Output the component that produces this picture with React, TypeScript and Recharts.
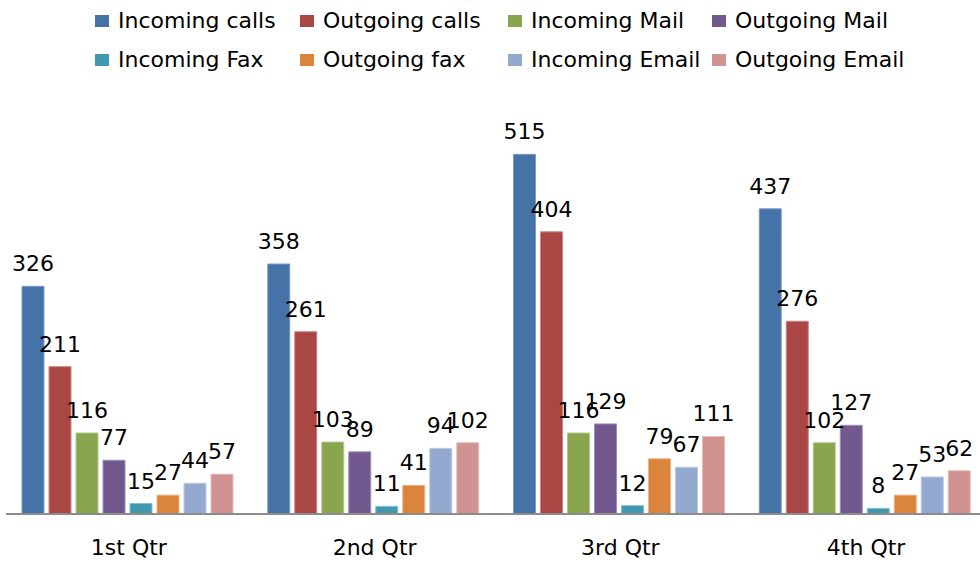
import React from 'react';
import { BarChart, Bar, XAxis, YAxis, Legend, LabelList } from 'recharts';

const categories = ['1st Qtr', '2nd Qtr', '3rd Qtr', '4th Qtr'];
const incomingCalls = [326, 358, 515, 437];
const outgoingCalls = [211, 261, 404, 276];
const incomingMail = [116, 103, 116, 102];
const outgoingMail = [77, 89, 129, 127];
const incomingFax = [15, 11, 12, 8];
const outgoingFax = [27, 41, 79, 27];
const incomingEmail = [44, 94, 67, 53];
const outgoingEmail = [57, 102, 111, 62];

const seriesNames = [
  'Incoming calls', 'Outgoing calls', 'Incoming Mail', 'Outgoing Mail',
  'Incoming Fax', 'Outgoing fax', 'Incoming Email', 'Outgoing Email',
];
const seriesValues = [
  incomingCalls, outgoingCalls, incomingMail, outgoingMail,
  incomingFax, outgoingFax, incomingEmail, outgoingEmail,
];
const colors = ['#4572A7', '#AA4643', '#89A54E', '#71588F', '#4198AF', '#DB843D', '#93A9CF', '#D19392'];
const strokes = ['#7e9cc4', '#c98583', '#b3c78d', '#a08fb5', '#85bfcf', '#eab286', '#bccbe3', '#e6bdbc'];

const data = categories.map((c, i) => {
  const row: Record<string, string | number> = { name: c };
  seriesNames.forEach((s, j) => {
    row[`s${j}`] = seriesValues[j][i];
  });
  return row;
});

const FONT = 'DejaVu Sans';
const legendCols = [95, 300, 508, 712];
const legendRows = [21, 60];

const renderLegend = () => (
  <div style={{ position: 'relative', width: 990, height: 90, fontFamily: FONT, fontSize: 22 }}>
    {seriesNames.map((s, i) => {
      const col = i % 4;
      const row = Math.floor(i / 4);
      const x = legendCols[col];
      const y = legendRows[row];
      return (
        <div key={s} style={{ position: 'absolute', left: x, top: y - 14, height: 28, display: 'flex', alignItems: 'center', whiteSpace: 'nowrap' }}>
          <div style={{ width: 14, height: 12, background: colors[i], marginRight: 9 }} />
          <span style={{ color: '#000', lineHeight: '28px' }}>{s}</span>
        </div>
      );
    })}
  </div>
);

export default function App() {
  return (
    <div style={{ position: 'absolute', left: 0, top: 0, width: 980, height: 562, overflow: 'hidden', background: '#fff' }}>
      <BarChart
        width={990}
        height={562}
        data={data}
        margin={{ top: 5, right: 1, bottom: 18, left: 6 }}
        barGap={5}
        barCategoryGap={16}
      >
        <Legend
          verticalAlign="top"
          align="left"
          content={renderLegend}
          wrapperStyle={{ top: 0, left: 0, width: 990, height: 90 }}
        />
        <XAxis
          dataKey="name"
          tickLine={false}
          axisLine={{ stroke: '#8c8c8c', strokeWidth: 2 }}
          tick={{ fontFamily: FONT, fontSize: 22, fill: '#000' }}
          tickMargin={19}
        />
        <YAxis hide domain={[0, 600]} />
        {seriesNames.map((s, j) => (
          <Bar
            key={s}
            dataKey={`s${j}`}
            name={s}
            fill={colors[j]}
            stroke={strokes[j]}
            strokeWidth={1}
            isAnimationActive={false}
          >
            <LabelList
              dataKey={`s${j}`}
              position="top"
              offset={15}
              style={{ fontFamily: FONT, fontSize: 22, fill: '#000' }}
            />
          </Bar>
        ))}
      </BarChart>
    </div>
  );
}
